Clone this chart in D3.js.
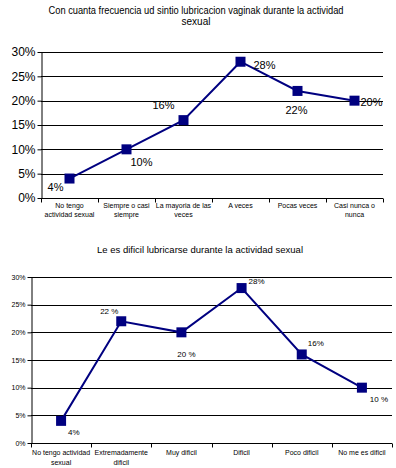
<!DOCTYPE html>
<html><head><meta charset="utf-8">
<script src="https://cdn.jsdelivr.net/npm/d3@7"></script>
<style>body{margin:0;background:#fff}svg{display:block}text{font-family:"Liberation Sans",Arial,sans-serif}</style>
</head><body>
<script>
// ---- data ----
const title1 = ["Con cuanta frecuencia ud sintio lubricacion vaginak durante la actividad", "sexual"];
const categories1 = [["No tengo","actividad sexual"],["Siempre o casi","siempre"],["La mayoria de las","veces"],["A veces"],["Pocas veces"],["Casi nunca o","nunca"]];
const values1 = [4, 10, 16, 28, 22, 20];
const labels1 = ["4%","10%","16%","28%","22%","20%"];

const title2 = ["Le es dificil lubricarse durante la actividad sexual"];
const categories2 = [["No tengo actividad","sexual"],["Extremadamente","dificil"],["Muy dificil"],["Dificil"],["Poco dificil"],["No me es dificil"]];
const values2 = [4, 22, 20, 28, 16, 10];
const labels2 = ["4%","22 %","20 %","28%","16%","10 %"];

const yTicks = [0, 5, 10, 15, 20, 25, 30];
const yTickLabels = ["0%","5%","10%","15%","20%","25%","30%"];

const svg = d3.select("body").append("svg").attr("width",396).attr("height",468);
const navy = "#000080";

function drawChart(o){
  const g = svg.append("g");
  const x = d3.scaleBand().domain(d3.range(o.cats.length)).range([o.x0,o.x1]);
  const y = d3.scaleLinear().domain([0,30]).range([o.y0,o.y1]);
  // title
  o.title.forEach((t,i)=>{
    const tt = g.append("text").attr("x",o.titleX).attr("y",o.titleY+i*o.titleLH)
      .attr("text-anchor","middle").attr("font-size",o.titleFS).text(t);
    if(o.titleW[i]) tt.attr("textLength",o.titleW[i]).attr("lengthAdjust","spacingAndGlyphs");
  });
  // gridlines
  g.selectAll(".grid").data(yTicks.filter(d=>d>0)).join("line")
    .attr("x1",o.x0).attr("x2",o.x1).attr("y1",d=>Math.round(y(d))+0.5).attr("y2",d=>Math.round(y(d))+0.5)
    .attr("stroke","#000").attr("stroke-width",1);
  // y axis
  const ya = g.append("g").attr("transform",`translate(${o.x0+0.5},0)`)
    .call(d3.axisLeft(y).tickValues(yTicks).tickFormat((d,i)=>yTickLabels[i]).tickSize(4).tickSizeOuter(0));
  ya.select(".domain").attr("stroke","#000");
  ya.selectAll(".tick line").attr("stroke","#000");
  ya.selectAll(".tick text").attr("font-size",o.yFS).attr("fill","#000").attr("x",o.yLabX)
    .attr("font-family",'"Liberation Sans",Arial,sans-serif');
  // x axis
  const xa = g.append("g").attr("transform",`translate(0,${Math.round(o.y0)+0.5})`);
  xa.append("line").attr("x1",o.x0).attr("x2",o.x1).attr("stroke","#000");
  const bounds = d3.range(o.cats.length+1).map(i=>o.x0 + i*x.step());
  xa.selectAll(".xt").data(bounds).join("line").attr("x1",d=>Math.round(d)+0.5).attr("x2",d=>Math.round(d)+0.5)
    .attr("y1",0).attr("y2",4).attr("stroke","#000");
  o.cats.forEach((c,i)=>{
    c.forEach((line,j)=>{
      g.append("text").attr("x",x(i)+x.bandwidth()/2).attr("y",o.xLabY+j*o.xLabLH)
        .attr("text-anchor","middle").attr("font-size",o.xFS).text(line);
    });
  });
  // line
  const cx = i=>x(i)+x.bandwidth()/2;
  g.append("path").datum(o.vals).attr("fill","none").attr("stroke",navy).attr("stroke-width",2)
    .attr("d",d3.line().x((d,i)=>cx(i)).y(d=>y(d)));
  g.selectAll(".m").data(o.vals).join("rect")
    .attr("x",(d,i)=>cx(i)-o.ms/2).attr("y",d=>y(d)-o.ms/2).attr("width",o.ms).attr("height",o.ms).attr("fill",navy);
  // labels
  o.vals.forEach((d,i)=>{
    const off = o.labOff[i];
    g.append("text").attr("x",cx(i)+off[0]).attr("y",y(d)+off[1]).attr("text-anchor",off[2])
      .attr("font-size",o.labFS).text(o.labs[i]);
  });
}

drawChart({
  title:title1, titleX:196, titleY:14, titleLH:11, titleFS:10, titleW:[295,0],
  cats:categories1, vals:values1, labs:labels1,
  x0:41, x1:383, y0:198, y1:52, yFS:12, yLabX:-6, xFS:7, xLabY:208, xLabLH:9,
  ms:10, labFS:11,
  labOff:[[-6,12,"end"],[4,17,"start"],[-9,-11,"end"],[13,7,"start"],[-1,23,"middle"],[6,5,"start"]]
});
drawChart({
  title:title2, titleX:200, titleY:253, titleLH:11, titleFS:9, titleW:[206],
  cats:categories2, vals:values2, labs:labels2,
  x0:31, x1:392, y0:443, y1:277, yFS:7, yLabX:-6, xFS:7, xLabY:455, xLabLH:10,
  ms:10, labFS:8,
  labOff:[[7,14,"start"],[-12,-7,"middle"],[5,25,"middle"],[7,-4,"start"],[6,-8,"start"],[17,14,"middle"]]
});
</script>
</body></html>
